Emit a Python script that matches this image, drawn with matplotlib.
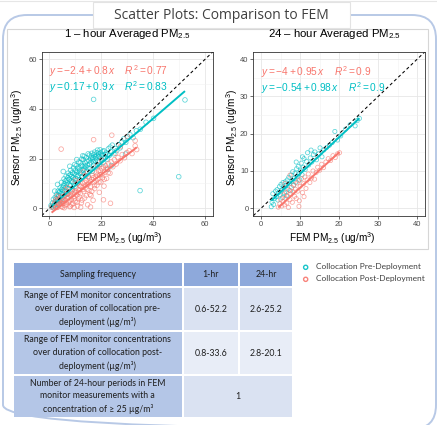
import matplotlib.pyplot as plt
from matplotlib.patches import Rectangle, FancyBboxPatch

plt.rcParams['font.family'] = ['Liberation Sans', 'DejaVu Sans']
plt.rcParams['mathtext.fontset'] = 'custom'
plt.rcParams['mathtext.rm'] = 'Liberation Sans'
plt.rcParams['mathtext.it'] = 'Liberation Sans:italic'
plt.rcParams['mathtext.bf'] = 'Liberation Sans:bold'

PRE = '#00BFC4'
POST = '#F8766D'

# ---- data ----
pre_1hr = [(0.8, 0.5), (1.2, 2.1), (1.5, 3.6), (1.9, 1.2), (2.2, 4.4), (2.4, 2.8), (2.7, 5.6), (3.1, 3.3),
           (3.3, 6.9), (3.6, 4.8), (3.9, 2.6), (4.1, 8.2), (4.3, 5.9), (4.6, 10.4), (4.8, 4.1), (5.1, 7.3),
           (5.4, 9.1), (5.6, 11.8), (5.9, 5.2), (6.2, 8.4), (6.4, 12.9), (6.7, 6.6), (6.9, 10.2), (7.2, 14.1),
           (7.4, 7.9), (7.7, 11.6), (8.0, 9.2), (8.2, 15.3), (8.5, 12.8), (8.8, 7.5), (9.0, 10.7), (9.3, 16.2),
           (9.5, 13.9), (9.8, 8.8), (10.1, 11.9), (10.3, 17.1), (10.6, 14.6), (10.9, 10.1), (11.1, 13.2),
           (11.4, 16.4), (11.7, 11.5), (11.9, 18.3), (12.2, 14.4), (12.5, 12.6), (12.7, 16.9), (13.0, 19.6),
           (13.3, 13.7), (13.5, 15.8), (13.8, 18.2), (14.1, 20.3), (14.3, 14.9), (14.6, 17.4), (14.9, 12.8),
           (15.2, 19.2), (15.4, 21.4), (15.7, 16.1), (16.0, 18.6), (16.3, 22.1), (16.5, 14.9), (16.8, 20.3),
           (17.1, 17.4), (17.4, 22.6), (17.6, 19.1), (17.9, 16.6), (18.2, 21.2), (18.5, 23.4), (18.8, 18.9),
           (19.1, 20.8), (19.4, 17.6), (19.7, 22.3), (20.0, 19.6), (20.3, 21.5), (20.7, 18.3), (21.0, 23.1),
           (21.4, 20.4), (21.8, 22.2), (22.2, 19.8), (22.7, 23.9), (23.1, 21.3), (23.6, 22.8), (24.2, 25.4),
           (24.8, 21.9), (25.3, 24.1), (25.9, 23.2), (26.6, 25.6), (27.2, 24.3), (27.9, 26.7), (28.6, 27.9),
           (29.4, 26.5), (30.1, 28.8), (31.0, 29.6), (32.2, 28.4), (33.5, 31.2), (35.0, 31.8), (37.2, 34.6),
           (40.1, 36.2), (17.0, 43.8), (52.2, 43.6), (49.8, 12.7), (34.9, 7.1), (23.9, 17.2), (22.4, 15.6),
           (29.3, 21.8), (5.3, 14.8), (3.1, 9.6), (7.8, 16.9), (2.0, 6.9), (10.5, 19.6), (12.8, 21.1),
           (1.6, 0.2), (2.9, 1.5), (3.8, 6.2), (4.4, 3.2), (5.0, 6.1), (5.8, 7.1), (6.5, 9.6), (7.0, 5.6),
           (7.5, 13.1), (8.6, 10.6), (9.1, 12.3), (9.9, 15.2), (10.7, 12.9), (11.6, 15.2), (12.3, 17.3),
           (13.6, 17.0), (14.8, 16.2), (15.9, 20.1), (16.9, 18.7), (18.0, 19.9), (19.0, 21.9), (20.5, 22.9),
           (0.6, 1.1), (2.5, 3.8), (3.4, 5.2), (4.0, 6.8), (4.7, 7.6), (5.2, 8.4), (5.7, 9.8), (6.1, 10.9),
           (6.6, 11.3), (7.1, 12.2), (7.6, 9.4), (8.1, 13.6), (8.4, 11.0), (8.9, 14.4), (9.4, 11.6),
           (9.7, 17.6), (10.2, 13.5), (10.8, 16.0), (11.3, 18.6), (11.8, 14.0), (12.4, 19.8), (12.9, 15.4),
           (13.4, 20.9), (13.9, 16.6), (14.4, 18.9), (14.9, 21.9), (15.5, 17.8), (16.1, 21.0), (16.6, 19.6),
           (17.2, 21.6), (17.8, 20.6), (18.3, 22.3), (18.9, 21.0), (19.5, 23.5), (20.1, 21.2), (20.8, 20.2),
           (21.5, 21.6), (22.5, 21.7), (23.4, 24.6), (3.6, 1.8), (2.3, 0.6)]
post_1hr = [(1.5, 0.3), (1.9, 1.8), (2.3, 0.9), (2.6, 3.4), (2.9, 2.1), (3.2, 0.4), (3.5, 3.9), (3.8, 1.6),
            (4.1, 2.9), (4.3, 4.6), (4.6, 0.8), (4.9, 3.5), (5.2, 1.9), (5.5, 4.8), (5.7, 0.2), (6.0, 3.1),
            (6.3, 5.4), (6.6, 1.5), (6.9, 4.2), (7.2, 6.1), (7.5, 2.6), (7.8, 0.6), (8.1, 5.2), (8.4, 3.6),
            (8.7, 7.0), (9.0, 1.9), (9.3, 4.7), (9.6, 6.6), (9.9, 2.9), (10.2, 8.1), (10.5, 5.3), (10.8, 0.9),
            (11.1, 3.8), (11.4, 7.4), (11.7, 9.0), (12.0, 5.9), (12.3, 2.2), (12.6, 8.3), (12.9, 10.1),
            (13.2, 6.7), (13.5, 4.1), (13.8, 9.2), (14.1, 11.0), (14.4, 7.6), (14.7, 1.4), (15.0, 9.8),
            (15.3, 12.1), (15.6, 5.6), (15.9, 8.7), (16.2, 11.6), (16.5, 13.2), (16.8, 3.2), (17.1, 10.4),
            (17.4, 7.9), (17.7, 12.8), (18.0, 14.2), (18.3, 9.3), (18.6, 11.7), (18.9, 15.0), (19.2, 6.4),
            (19.5, 13.4), (19.8, 10.6), (20.1, 15.9), (20.4, 12.3), (20.7, 16.6), (21.0, 8.9), (21.3, 14.5),
            (21.6, 17.2), (22.0, 12.0), (22.4, 15.8), (22.8, 17.9), (23.3, 14.1), (23.8, 18.6), (24.4, 16.7),
            (25.0, 19.5), (25.7, 17.8), (26.4, 20.4), (27.2, 19.1), (28.0, 21.6), (28.9, 20.3), (29.8, 22.4),
            (30.7, 23.1), (31.8, 22.0), (33.0, 25.1), (33.6, 23.6), (4.5, 23.8), (17.0, 27.6), (24.0, 29.4),
            (30.0, 28.9), (33.0, 27.2), (23.5, 2.0), (20.8, 3.4), (15.8, 0.5), (13.0, 14.6), (27.3, 24.8),
            (10.0, 11.2), (7.0, 8.3), (16.0, 5.1), (18.5, 17.2), (12.0, 0.4), (9.5, 0.3), (20.0, 19.4),
            (25.5, 22.1), (3.0, 4.9), (6.3, 7.5), (11.0, 10.3), (14.0, 13.1), (5.0, 0.4), (0.8, 0.6),
            (2.1, 2.6), (2.8, 0.3), (3.4, 2.5), (3.9, 3.4), (4.4, 1.7), (5.0, 2.8), (5.4, 3.6), (5.9, 1.2),
            (6.4, 2.3), (6.8, 5.9), (7.3, 4.4), (7.7, 3.3), (8.2, 6.5), (8.6, 1.4), (9.1, 5.8), (9.6, 3.9),
            (10.1, 6.9), (10.6, 2.4), (11.0, 6.3), (11.5, 4.6), (12.1, 8.8), (12.5, 3.3), (13.0, 7.6),
            (13.6, 10.4), (14.2, 5.1), (14.6, 9.6), (15.2, 7.2), (15.7, 10.8), (16.3, 6.8), (16.8, 12.3),
            (17.3, 9.1), (17.9, 11.1), (18.4, 13.3), (19.0, 10.4), (19.6, 15.2), (20.2, 13.6), (21.1, 11.6),
            (21.9, 16.1), (22.6, 14.3), (8.0, 0.9)]

pre_24hr = [(2.6, 0.4), (2.8, 1.6), (3.0, 3.9), (3.2, 1.0), (3.4, 2.6), (3.7, 4.6), (3.9, 3.1), (4.1, 5.0),
            (4.3, 2.2), (4.5, 4.2), (4.7, 5.8), (4.9, 3.6), (5.1, 6.4), (5.3, 4.9), (5.5, 2.9), (5.6, 6.9),
            (5.8, 5.5), (6.0, 4.1), (6.2, 7.1), (6.4, 6.0), (6.5, 3.4), (6.7, 7.6), (6.9, 5.1), (7.1, 8.3),
            (7.3, 6.6), (7.5, 4.7), (7.7, 8.9), (7.9, 7.3), (8.1, 9.8), (8.3, 6.1), (8.5, 8.0), (8.7, 9.4),
            (8.9, 7.0), (9.1, 10.6), (9.3, 8.6), (9.5, 11.2), (9.7, 9.3), (9.9, 7.6), (10.1, 10.0), (10.3, 12.1),
            (10.5, 9.0), (10.8, 11.0), (11.0, 13.3), (11.3, 10.4), (11.6, 12.6), (11.9, 14.9), (12.2, 11.6),
            (12.6, 13.5), (13.0, 12.4), (13.4, 14.4), (13.8, 15.1), (14.2, 13.0), (14.7, 14.6), (15.1, 16.2),
            (15.6, 13.8), (16.1, 15.7), (16.8, 16.3), (17.5, 16.9), (18.2, 17.6), (18.9, 20.6), (19.6, 18.3),
            (20.4, 19.4), (21.6, 21.2), (22.8, 22.4), (24.1, 22.1), (24.6, 23.5), (25.2, 24.1), (9.0, 12.4),
            (10.6, 13.8), (12.8, 15.6)]
post_24hr = [(4.4, 0.3), (4.8, 1.2), (5.0, 2.4), (5.3, 0.6), (5.6, 1.8), (5.8, 3.6), (6.0, 0.9), (6.2, 2.7),
             (6.4, 4.3), (6.6, 1.4), (6.8, 3.1), (7.0, 0.2), (7.2, 4.8), (7.4, 2.3), (7.6, 3.9), (7.8, 5.6),
             (8.0, 1.6), (8.2, 4.4), (8.4, 6.3), (8.6, 3.2), (8.8, 5.1), (9.0, 2.6), (9.2, 6.8), (9.4, 4.6),
             (9.6, 7.4), (9.8, 2.0), (10.0, 5.9), (10.3, 7.9), (10.6, 4.2), (10.9, 6.6), (11.2, 8.4), (11.5, 5.3),
             (11.8, 7.6), (12.1, 9.2), (12.5, 6.9), (12.9, 8.1), (13.3, 10.0), (13.7, 7.8), (14.1, 9.6),
             (14.5, 11.0), (15.0, 10.2), (15.5, 11.8), (16.0, 10.9), (16.6, 12.4), (17.2, 13.3), (17.8, 12.8),
             (18.4, 14.1), (19.0, 13.6), (19.6, 14.6), (20.1, 14.9), (6.1, 6.6), (7.4, 8.9), (9.7, 0.5), (11.0, 3.1)]

# regression (intercept, slope, R2)
fit_pre_1hr = (0.17, 0.9, 0.83)
fit_post_1hr = (-2.4, 0.8, 0.77)
fit_pre_24hr = (-0.54, 0.98, 0.9)
fit_post_24hr = (-4, 0.95, 0.9)

panel_titles = ['1 \u2013 hour Averaged PM$_{2.5}$', '24 \u2013 hour Averaged PM$_{2.5}$']
panel_max = [60, 40]
series_labels = ['Collocation Pre-Deployment', 'Collocation Post-Deployment']

table_header = ['Sampling frequency', '1-hr', '24-hr']
table_rows = ['Range of FEM monitor concentrations\nover duration of collocation pre-\ndeployment (\u00b5g/m\u00b3)',
              'Range of FEM monitor concentrations\nover duration of collocation post-\ndeployment (\u00b5g/m\u00b3)',
              'Number of 24-hour periods in FEM\nmonitor measurements with a\nconcentration of \u2265 25 \u00b5g/m\u00b3']
table_1hr = ['0.6-52.2', '0.8-33.6']
table_24hr = ['2.6-25.2', '2.8-20.1']
table_merged = '1'

W, H = 437, 425
fig = plt.figure(figsize=(W / 100, H / 100), dpi=100)

# background layer in pixel coordinates
bg = fig.add_axes([0, 0, 1, 1], zorder=0)
bg.set_xlim(0, W)
bg.set_ylim(H, 0)
bg.axis('off')

bg.plot([0, W], [0.5, 0.5], color='#E6E6E6', lw=0.8)
bg.add_patch(FancyBboxPatch((3, 15), 433, 414, boxstyle='round,pad=0,rounding_size=24',
                            fc='none', ec='#B8C9E6', lw=1.4))
bg.add_patch(Rectangle((7, 29), 421, 220, fc='white', ec='#D6D6D6', lw=0.8))
bg.add_patch(Rectangle((93, 2), 257, 26, fc='white', ec='#E3E3E3', lw=0.8))
bg.text(221, 15, 'Scatter Plots: Comparison to FEM', ha='center', va='center',
        fontsize=10, color='#404040', family=['Open Sans', 'DejaVu Sans'])

# scatter panels
panels = [
    (pre_1hr, post_1hr, fit_pre_1hr, fit_post_1hr),
    (pre_24hr, post_24hr, fit_pre_24hr, fit_post_24hr),
]
ax_pos = [(41.7, 51.7, 171.3, 164), (253.3, 51.7, 171.7, 164)]
title_x = [127.5, 335]
xlabel_x = [119, 332]
ylabel_x = [17, 232]
eq_y = [(55.3, 48.7), (36.6, 32.2)]
marker_s = [11, 9]

handles = []
for i, (pre, post, fpre, fpost) in enumerate(panels):
    l, t, w, h = ax_pos[i]
    ax = fig.add_axes([l / W, 1 - (t + h) / H, w / W, h / H], zorder=2)
    m = panel_max[i]
    pad = m * 0.05
    ax.set_xlim(-pad, m + pad)
    ax.set_ylim(-pad, m + pad)
    major = [0, 20, 40, 60] if m == 60 else [0, 10, 20, 30, 40]
    minor = [10, 30, 50] if m == 60 else [5, 15, 25, 35]
    ax.set_xticks(major)
    ax.set_yticks(major)
    ax.set_xticks(minor, minor=True)
    ax.set_yticks(minor, minor=True)
    ax.tick_params(which='minor', length=0)
    ax.tick_params(which='major', length=2, width=0.5, color='#333333', labelsize=5.5,
                   labelcolor='#4D4D4D', pad=1.5)
    ax.grid(which='major', color='#E6E6E6', lw=0.6)
    ax.grid(which='minor', color='#F1F1F1', lw=0.4)
    ax.set_axisbelow(True)
    for s in ax.spines.values():
        s.set_color('#333333')
        s.set_linewidth(0.6)

    for pts, col, fit in [(pre, PRE, fpre), (post, POST, fpost)]:
        xs = [p[0] for p in pts]
        ys = [p[1] for p in pts]
        sc = ax.scatter(xs, ys, s=marker_s[i], facecolors='none', edgecolors=col,
                        linewidths=0.55, alpha=0.65)
        if i == 0:
            handles.append(sc)
        x0, x1 = min(xs), max(xs)
        ax.plot([x0, x1], [fit[0] + fit[1] * x0, fit[0] + fit[1] * x1], color=col, lw=1.4,
                solid_capstyle='butt')
    ax.axline((0, 0), slope=1, color='black', lw=0.75, ls=(0, (3, 2.5)))

    for fit, col, yy in [(fpost, POST, eq_y[i][0]), (fpre, PRE, eq_y[i][1])]:
        a, b, r2 = fit
        txt = r'$y = %s %g + %g\,x\quad\ R^2 = %g$' % ('-' if a < 0 else '', abs(a), b, r2)
        ax.text(0, yy, txt, color=col, fontsize=7.3, va='center', ha='left')

    bg.text(title_x[i], 37, panel_titles[i], ha='center', va='baseline', fontsize=8.2, color='black')
    bg.text(xlabel_x[i], 238, 'FEM PM$_{2.5}$ (ug/m$^3$)', ha='center', va='center',
            fontsize=7.2, color='black')
    bg.text(ylabel_x[i], 137.5, 'Sensor PM$_{2.5}$ (ug/m$^3$)', ha='center', va='center',
            rotation=90, fontsize=7.2, color='black')

# table
tfont = ['Lato', 'DejaVu Sans']
col_x = [12.7, 182.7, 239, 293]
row_y = [261.7, 287, 331, 375, 418]
head_col = '#8EA9DB'
left_col = '#B4C6E7'
val_cols = ['#DAE2F2', '#E8EDF7', '#DAE2F2']
g = 0.8

def cell(x0, x1, y0, y1, color, text, size=6.3):
    bg.add_patch(Rectangle((x0 + g, y0 + g), x1 - x0 - 2 * g, y1 - y0 - 2 * g, fc=color, ec='none'))
    bg.text((x0 + x1) / 2, (y0 + y1) / 2, text, ha='center', va='center', fontsize=size,
            color='#1E1E1E', family=tfont, linespacing=1.5)

for j, txt in enumerate(table_header):
    cell(col_x[j], col_x[j + 1], row_y[0], row_y[1], head_col, txt)
for r, txt in enumerate(table_rows):
    cell(col_x[0], col_x[1], row_y[r + 1], row_y[r + 2], left_col, txt)
for r in range(2):
    cell(col_x[1], col_x[2], row_y[r + 1], row_y[r + 2], val_cols[r], table_1hr[r])
    cell(col_x[2], col_x[3], row_y[r + 1], row_y[r + 2], val_cols[r], table_24hr[r])
cell(col_x[1], col_x[3], row_y[3], row_y[4], val_cols[2], table_merged)

# legend
leg = fig.legend(handles, series_labels, loc='upper left', bbox_to_anchor=(299 / W, 1 - 263.5 / H),
                 frameon=False, handletextpad=0.5, labelspacing=0.6, handlelength=1.6,
                 prop={'family': tfont, 'size': 6.0}, markerscale=0.9, borderaxespad=0, borderpad=0)
for t in leg.get_texts():
    t.set_color('#404040')
for lh in leg.legend_handles:
    lh.set_alpha(0.9)
    lh.set_linewidth(1.0)

fig.savefig('out.png', dpi=100)
